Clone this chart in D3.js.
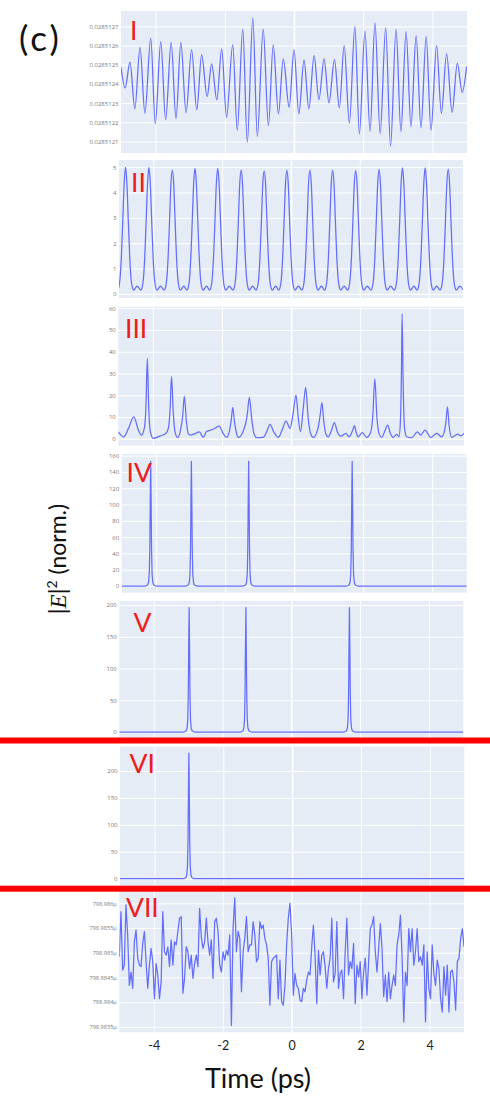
<!DOCTYPE html>
<html>
<head>
<meta charset="utf-8">
<script src="https://cdn.jsdelivr.net/npm/d3@7"></script>
<style>
  html, body { margin: 0; padding: 0; background: #fff; }
  svg { display: block; }
</style>
</head>
<body>
<svg id="fig" width="490" height="1099"></svg>
<script>
// ---------------- data ----------------
const timeTicks = [-4, -2, 0, 2, 4];
const timeTickLabels = ["-4", "-2", "0", "2", "4"];

// I : weak modulated background oscillation
const timeI = [-5.00,-4.88,-4.74,-4.60,-4.45,-4.31,-4.14,-4.01,-3.85,-3.71,-3.55,-3.41,-3.27,-3.12,-2.96,-2.81,-2.67,-2.51,-2.38,-2.23,-2.09,-1.95,-1.77,-1.64,-1.48,-1.35,-1.19,-1.06,-0.89,-0.74,-0.60,-0.45,-0.31,-0.14,0.00,0.14,0.29,0.43,0.58,0.72,0.87,1.01,1.17,1.31,1.45,1.60,1.76,1.89,2.05,2.20,2.34,2.49,2.65,2.79,2.95,3.09,3.24,3.38,3.53,3.67,3.82,3.96,4.12,4.26,4.41,4.57,4.72,4.86,4.99];
const powerI = [0.028512487,0.028512379,0.028512513,0.028512270,0.028512591,0.028512247,0.028512638,0.028512192,0.028512620,0.028512213,0.028512617,0.028512218,0.028512617,0.028512249,0.028512579,0.028512265,0.028512551,0.028512334,0.028512504,0.028512317,0.028512582,0.028512226,0.028512605,0.028512157,0.028512686,0.028512096,0.028512744,0.028512126,0.028512686,0.028512183,0.028512603,0.028512244,0.028512530,0.028512278,0.028512579,0.028512244,0.028512525,0.028512270,0.028512547,0.028512318,0.028512530,0.028512301,0.028512527,0.028512275,0.028512600,0.028512195,0.028512698,0.028512140,0.028512674,0.028512152,0.028512718,0.028512140,0.028512692,0.028512075,0.028512686,0.028512152,0.028512672,0.028512178,0.028512652,0.028512171,0.028512648,0.028512157,0.028512600,0.028512247,0.028512556,0.028512252,0.028512509,0.028512356,0.028512490];
const ticksI = [0.0285121, 0.0285122, 0.0285123, 0.0285124, 0.0285125, 0.0285126, 0.0285127];
const tickLabelsI = ["0.0285121", "0.0285122", "0.0285123", "0.0285124", "0.0285125", "0.0285126", "0.0285127"];

// II : periodic pulse train (Turing roll)
const peakTimesII = [-4.81, -4.13, -3.45, -2.79, -2.13, -1.45, -0.78, -0.12, 0.55, 1.21, 1.88, 2.56, 3.24, 3.90, 4.57];
const peakHeightsII = [4.99, 4.99, 4.88, 4.95, 4.95, 4.88, 4.84, 4.88, 4.88, 4.88, 4.86, 4.92, 4.97, 4.97, 4.92];
// one period of the roll: [time offset from the peak, |E|^2]; null marks the peak itself
const rollShapeII = [[-0.235, 0.15], [-0.20, 0.24], [-0.16, 0.6], [-0.12, 1.5], [-0.08, 2.9], [-0.04, 4.35], [0, null],
                     [0.04, 4.35], [0.08, 2.9], [0.12, 1.5], [0.16, 0.6], [0.20, 0.24], [0.235, 0.15], [0.335, 0.31]];
const tailII = [[5.0, 0.17]];
const ticksII = [0, 1, 2, 3, 4, 5];

// III : chaotic breathing state
const pointsIII = [[-5.00,3.2],[-4.93,1.8],[-4.84,0.9],[-4.70,5.0],[-4.55,10.1],[-4.42,4.0],[-4.33,1.7],[-4.24,5.5],[-4.20,15],[-4.16,37.0],[-4.12,14],[-4.07,3],[-3.99,0.15],[-3.80,1.2],[-3.62,2.5],[-3.55,5],[-3.50,14],[-3.46,28.5],[-3.41,12],[-3.35,2.5],[-3.28,0.6],[-3.20,4],[-3.14,10],[-3.09,19.6],[-3.03,8],[-2.98,2.5],[-2.93,1.7],[-2.80,2.2],[-2.66,3.2],[-2.54,0.6],[-2.45,3.3],[-2.37,3.7],[-2.20,4.8],[-2.08,5.8],[-1.97,2.5],[-1.87,0.6],[-1.78,4],[-1.73,9],[-1.69,14.4],[-1.64,8],[-1.58,2.5],[-1.53,0.6],[-1.40,3],[-1.27,11],[-1.21,19.0],[-1.14,9],[-1.07,2],[-1.00,0.5],[-0.81,0.6],[-0.70,3.5],[-0.61,6.6],[-0.50,3],[-0.37,0.6],[-0.25,4.5],[-0.15,8.1],[-0.03,4.8],[0.06,12],[0.14,20.1],[0.21,9],[0.27,3.2],[0.35,14],[0.42,23.6],[0.49,10],[0.56,2.5],[0.64,0.6],[0.78,5],[0.84,11],[0.89,16.6],[0.95,7],[1.01,2],[1.07,0.9],[1.17,4],[1.25,7.4],[1.34,3],[1.44,1.2],[1.58,2.5],[1.68,0.9],[1.78,4],[1.83,6.0],[1.88,3],[1.94,0.9],[2.06,2.8],[2.18,0.6],[2.30,3],[2.36,10],[2.42,27.5],[2.48,10],[2.55,2],[2.62,0.6],[2.72,4],[2.79,6.3],[2.87,2.5],[2.95,0.6],[3.05,2.0],[3.12,0.9],[3.16,8],[3.19,30],[3.21,57.4],[3.24,25],[3.28,5],[3.34,0.9],[3.49,0.5],[3.65,3.2],[3.75,1.7],[3.87,4.0],[4.04,0.6],[4.21,2.5],[4.35,0.9],[4.44,4],[4.48,8],[4.52,14.7],[4.57,6],[4.64,0.6],[4.82,2.1],[4.91,1.4],[5.00,2.5]];
const ticksIII = [0, 10, 20, 30, 40, 50, 60];

// IV, V, VI : soliton states
const solitonShape = [[-0.15, 0], [-0.09, 0.008], [-0.06, 0.03], [-0.04, 0.1], [-0.025, 0.3], [-0.012, 0.7], [0, 1],
                      [0.012, 0.7], [0.025, 0.3], [0.04, 0.1], [0.06, 0.03], [0.09, 0.008], [0.15, 0]];
const solitonTimesIV = [-4.16, -2.98, -1.32, 1.68];
const solitonPeaksIV = [153, 153, 153, 153];
const ticksIV = [0, 20, 40, 60, 80, 100, 120, 140, 160];

const solitonTimesV = [-2.97, -1.32, 1.69];
const solitonPeaksV = [196, 196, 196];
const ticksV = [0, 50, 100, 150, 200];

const solitonTimesVI = [-3.00];
const solitonPeaksVI = [233];
const ticksVI = [0, 50, 100, 150, 200];

// VII : background after the soliton is lost (values in µ units)
const valuesVII = [798.98492,798.98583,798.98465,798.98475,798.98597,798.98536,798.98434,798.98461,798.98428,798.98522,798.98546,798.98489,798.98475,798.98472,798.98519,798.98543,798.98482,798.98428,798.98475,798.98509,798.98482,798.98407,798.98478,798.98455,798.98407,798.98441,
798.98583,798.98502,798.98495,798.98512,798.98472,798.98526,798.98475,798.98522,798.98516,798.98543,
798.98570,798.98573,798.98418,798.98448,798.98512,798.98502,798.98468,798.98495,798.98448,798.98478,
798.98495,798.98472,798.98590,798.98532,798.98509,798.98522,798.98570,798.98522,798.98495,798.98526,
798.98448,798.98563,798.98570,798.98543,798.98475,798.98461,798.98502,798.98485,798.98505,798.98495,
798.98536,798.98353,798.98549,798.98611,798.98502,798.98543,798.98529,798.98421,798.98502,798.98529,
798.98573,798.98502,798.98516,798.98516,798.98563,798.98536,798.98482,798.98489,798.98563,798.98549,
798.98556,798.98529,798.98516,798.98489,798.98394,798.98482,798.98489,798.98492,798.98495,798.98407,
798.98485,798.98401,798.98394,798.98434,798.98516,798.98570,798.98600,798.98536,798.98414,798.98458,
798.98434,798.98428,798.98404,798.98401,798.98428,798.98421,798.98445,798.98461,798.98455,798.98512,
798.98556,798.98495,798.98397,798.98505,798.98455,798.98495,798.98502,798.98472,798.98428,798.98468,
798.98489,798.98570,798.98441,798.98458,798.98563,798.98428,798.98458,798.98465,798.98407,798.98502,
798.98570,798.98455,798.98482,798.98468,798.98519,798.98397,798.98475,798.98451,798.98482,798.98407,
798.98461,798.98489,798.98414,798.98482,798.98549,798.98556,798.98573,798.98502,798.98461,798.98509,
798.98559,798.98509,798.98411,798.98455,798.98401,798.98461,798.98407,798.98434,798.98455,798.98434,
798.98516,798.98536,798.98576,798.98492,798.98360,798.98461,798.98434,798.98549,798.98502,798.98549,
798.98475,798.98502,798.98549,798.98482,798.98492,798.98475,798.98516,798.98360,798.98502,798.98428,
798.98407,798.98516,798.98458,798.98434,798.98485,798.98468,798.98407,798.98380,798.98472,798.98414,
798.98475,798.98380,798.98461,798.98465,798.98441,798.98384,798.98482,798.98489,798.98529,798.98549,
798.98512];
const ticksVII = [798.9835, 798.984, 798.9845, 798.985, 798.9855, 798.986];
const tickLabelsVII = ["798.9835μ", "798.984μ", "798.9845μ", "798.985μ", "798.9855μ", "798.986μ"];

// ---------------- assembled series ----------------
const seriesI = timeI.map((t, i) => [t, powerI[i]]);
const seriesII = peakTimesII.flatMap((t0, k) =>
  rollShapeII.map(([dt, v]) => [t0 + dt, v === null ? peakHeightsII[k] : v])).concat(tailII);
function solitonSeries(times, peaks) {
  const pts = [[-5, 0]];
  times.forEach((t0, k) => solitonShape.forEach(([dt, f]) => pts.push([t0 + dt, f * peaks[k]])));
  pts.push([5, 0]);
  return pts;
}
const seriesIV = solitonSeries(solitonTimesIV, solitonPeaksIV);
const seriesV = solitonSeries(solitonTimesV, solitonPeaksV);
const seriesVI = solitonSeries(solitonTimesVI, solitonPeaksVI);
const sampleStepVII = 10 / (valuesVII.length - 1);
const seriesVII = valuesVII.map((v, i) => [-5 + i * sampleStepVII, v]);

// ---------------- layout ----------------
const panels = [
  { tag: "I",   series: seriesI,   ticks: ticksI,   labels: tickLabelsI,  curve: d3.curveMonotoneX,
    box: [121, 467, 11, 153],      yDomain: [0.02851204, 0.02851278], tagPos: [130, 40] },
  { tag: "II",  series: seriesII,  ticks: ticksII,  labels: null, curve: d3.curveMonotoneX,
    box: [119, 463, 160, 298],     yDomain: [-0.16, 5.28],  tagPos: [131, 191.5] },
  { tag: "III", series: pointsIII, ticks: ticksIII, labels: null, curve: d3.curveMonotoneX,
    box: [118.3, 464, 306.7, 445.7], yDomain: [-3.2, 60.7], tagPos: [125, 338.3] },
  { tag: "IV",  series: seriesIV,  ticks: ticksIV,  labels: null, curve: d3.curveLinear,
    box: [121.7, 466.7, 454, 592.7], yDomain: [-8.2, 162],  tagPos: [126.5, 481.7] },
  { tag: "V",   series: seriesV,   ticks: ticksV,   labels: null, curve: d3.curveLinear,
    box: [119.3, 463.3, 601, 738],  yDomain: [-9.4, 206.3], tagPos: [133.5, 631.7] },
  { tag: "VI",  series: seriesVI,  ticks: ticksVI,  labels: null, curve: d3.curveLinear,
    box: [120, 464.3, 746.7, 887],  yDomain: [-15.4, 245],  tagPos: [129.5, 773] },
  { tag: "VII", series: seriesVII, ticks: ticksVII, labels: tickLabelsVII, curve: d3.curveLinear,
    box: [119.3, 464, 889, 1032.3], yDomain: [798.98339, 798.98629], tagPos: [126, 917] }
];

const svg = d3.select("#fig");
const tickFont = "'Open Sans', 'DejaVu Sans', sans-serif";
const textFont = "Lato, 'Open Sans', sans-serif";
const traceColor = "#636efa";

panels.forEach((p, idx) => {
  const [x0, x1, y0, y1] = p.box;
  const x = d3.scaleLinear().domain([-5, 5]).range([x0, x1]);
  const y = d3.scaleLinear().domain(p.yDomain).range([y1, y0]);
  const g = svg.append("g");

  g.append("rect").attr("x", x0).attr("y", y0).attr("width", x1 - x0).attr("height", y1 - y0)
    .attr("fill", "#e5ecf6");

  // vertical grid
  const gx = g.append("g").attr("transform", `translate(0,${y1})`)
    .call(d3.axisBottom(x).tickValues(timeTicks).tickSize(-(y1 - y0)).tickFormat(""));
  gx.select(".domain").remove();
  gx.selectAll(".tick line").attr("stroke", "#fff").attr("stroke-width", d => d === 0 ? 1.6 : 1);

  // horizontal grid + tick labels
  const fmt = p.labels ? ((d, i) => p.labels[i]) : d3.format("d");
  const gy = g.append("g").attr("transform", `translate(${x0},0)`)
    .call(d3.axisLeft(y).tickValues(p.ticks).tickSize(-(x1 - x0)).tickPadding(2.5).tickFormat(fmt));
  gy.select(".domain").remove();
  gy.selectAll(".tick line").attr("stroke", "#fff").attr("stroke-width", 1);
  gy.selectAll(".tick text").attr("fill", "#7b7b7b")
    .style("font-family", tickFont).style("font-size", p.tag === "VII" ? "5.6px" : "6px");

  // trace
  const clipId = "clip" + idx;
  g.append("clipPath").attr("id", clipId).append("rect")
    .attr("x", x0).attr("y", y0).attr("width", x1 - x0).attr("height", y1 - y0);
  g.append("path").datum(p.series)
    .attr("clip-path", `url(#${clipId})`)
    .attr("fill", "none").attr("stroke", traceColor).attr("stroke-width", 1.25)
    .attr("stroke-linejoin", "round")
    .attr("d", d3.line().x(d => x(d[0])).y(d => y(d[1])).curve(p.curve));

  // roman numeral tag
  g.append("text").attr("x", p.tagPos[0]).attr("y", p.tagPos[1])
    .attr("fill", "#ee1c1c").style("font-family", textFont).style("font-size", "26.5px")
    .text(p.tag);

  p.xScale = x;
});

// shared time axis labels under the last panel
const xBottom = panels[panels.length - 1].xScale;
const ax = svg.append("g").attr("transform", "translate(0,1041)")
  .call(d3.axisBottom(xBottom).tickValues(timeTicks).tickSize(0).tickPadding(0)
    .tickFormat((d, i) => timeTickLabels[i]));
ax.select(".domain").remove();
ax.selectAll(".tick text").attr("fill", "#222").attr("dy", "0.71em")
  .style("font-family", textFont).style("font-size", "12.5px");

svg.append("text").attr("x", 258).attr("y", 1088).attr("text-anchor", "middle")
  .attr("fill", "#111").style("font-family", textFont).style("font-size", "27px")
  .text("Time (ps)");

// y label |E|^2 (norm.)
const yl = svg.append("text").attr("transform", "translate(66,559) rotate(-90)")
  .attr("text-anchor", "middle").attr("fill", "#111")
  .style("font-family", textFont).style("font-size", "23px");
yl.append("tspan").text("|");
yl.append("tspan").style("font-family", "'Liberation Serif', serif").style("font-style", "italic").text("E");
yl.append("tspan").text("|");
yl.append("tspan").attr("dy", -9).style("font-size", "14px").text("2");
yl.append("tspan").attr("dy", 9).text(" (norm.)");

// panel letter
svg.append("text").attr("x", 19).attr("y", 51).attr("fill", "#111")
  .style("font-family", textFont).style("font-size", "35px").style("letter-spacing", "3px")
  .text("(c)");

// red separators
svg.append("rect").attr("x", 0).attr("y", 737.5).attr("width", 490).attr("height", 6).attr("fill", "#ff0000");
svg.append("rect").attr("x", 0).attr("y", 885.7).attr("width", 490).attr("height", 6).attr("fill", "#ff0000");
</script>
</body>
</html>
